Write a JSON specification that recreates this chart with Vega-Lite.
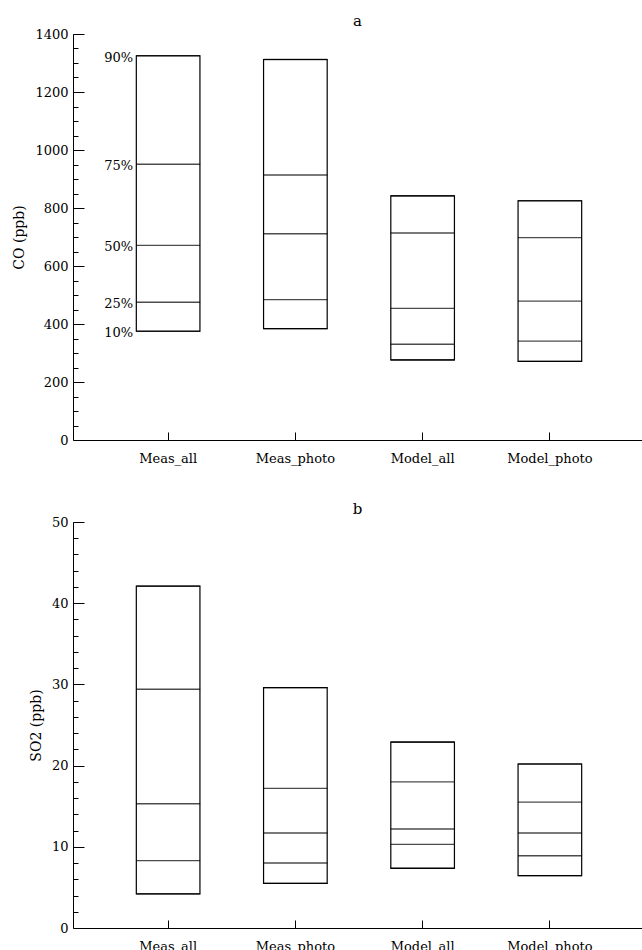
{
  "$schema": "https://vega.github.io/schema/vega-lite/v6.json",
  "autosize": {"type": "pad"},
  "padding": {"left": 12, "top": 14, "right": 0, "bottom": 0},
  "background": "white",
  "spacing": 82,
  "bounds": "flush",
  "config": {
    "view": {"stroke": null},
    "font": "DejaVu Serif",
    "axis": {
      "domainColor": "black", "tickColor": "black", "labelColor": "black", "titleColor": "black",
      "labelFont": "DejaVu Serif", "titleFont": "DejaVu Serif", "labelFontSize": 13, "titleFontSize": 14,
      "titleFontWeight": "normal", "grid": false, "domainWidth": 1, "tickWidth": 1, "labelOverlap": false
    },
    "title": {"font": "DejaVu Serif", "fontSize": 15, "fontWeight": "normal", "color": "black", "anchor": "middle", "offset": -1}
  },
  "datasets": {
    "co": [
      {"group": "Meas_all", "pct": "10%", "value": 375},
      {"group": "Meas_all", "pct": "25%", "value": 475},
      {"group": "Meas_all", "pct": "50%", "value": 671},
      {"group": "Meas_all", "pct": "75%", "value": 951},
      {"group": "Meas_all", "pct": "90%", "value": 1325},
      {"group": "Meas_photo", "pct": "10%", "value": 384},
      {"group": "Meas_photo", "pct": "25%", "value": 484},
      {"group": "Meas_photo", "pct": "50%", "value": 711},
      {"group": "Meas_photo", "pct": "75%", "value": 914},
      {"group": "Meas_photo", "pct": "90%", "value": 1312},
      {"group": "Model_all", "pct": "10%", "value": 276},
      {"group": "Model_all", "pct": "25%", "value": 330},
      {"group": "Model_all", "pct": "50%", "value": 454},
      {"group": "Model_all", "pct": "75%", "value": 714},
      {"group": "Model_all", "pct": "90%", "value": 842},
      {"group": "Model_photo", "pct": "10%", "value": 271},
      {"group": "Model_photo", "pct": "25%", "value": 341},
      {"group": "Model_photo", "pct": "50%", "value": 479},
      {"group": "Model_photo", "pct": "75%", "value": 698},
      {"group": "Model_photo", "pct": "90%", "value": 825}
    ],
    "so2": [
      {"group": "Meas_all", "pct": "10%", "value": 4.2},
      {"group": "Meas_all", "pct": "25%", "value": 8.3},
      {"group": "Meas_all", "pct": "50%", "value": 15.3},
      {"group": "Meas_all", "pct": "75%", "value": 29.4},
      {"group": "Meas_all", "pct": "90%", "value": 42.1},
      {"group": "Meas_photo", "pct": "10%", "value": 5.5},
      {"group": "Meas_photo", "pct": "25%", "value": 8.0},
      {"group": "Meas_photo", "pct": "50%", "value": 11.7},
      {"group": "Meas_photo", "pct": "75%", "value": 17.2},
      {"group": "Meas_photo", "pct": "90%", "value": 29.6},
      {"group": "Model_all", "pct": "10%", "value": 7.35},
      {"group": "Model_all", "pct": "25%", "value": 10.3},
      {"group": "Model_all", "pct": "50%", "value": 12.2},
      {"group": "Model_all", "pct": "75%", "value": 18.0},
      {"group": "Model_all", "pct": "90%", "value": 22.9},
      {"group": "Model_photo", "pct": "10%", "value": 6.45},
      {"group": "Model_photo", "pct": "25%", "value": 8.9},
      {"group": "Model_photo", "pct": "50%", "value": 11.7},
      {"group": "Model_photo", "pct": "75%", "value": 15.5},
      {"group": "Model_photo", "pct": "90%", "value": 20.2}
    ]
  },
  "vconcat": [
    {
      "title": "a",
      "width": 569,
      "height": 406,
      "data": {"name": "co"},
      "encoding": {
        "x": {
          "field": "group", "type": "nominal", "sort": null,
          "scale": {"range": [3, 569], "paddingInner": 0, "paddingOuter": 0.224},
          "axis": {"title": null, "labelAngle": 0, "tickSize": -8, "labelPadding": 20, "labelBaseline": "top"}
        }
      },
      "resolve": {"axis": {"y": "independent"}},
      "layer": [
        {
          "mark": {"type": "bar", "fill": "white", "stroke": "black", "strokeWidth": 1.2, "width": {"band": 0.5}},
          "encoding": {
            "y": {
              "aggregate": "min", "field": "value", "type": "quantitative",
              "scale": {"domain": [0, 1400], "nice": false, "zero": true},
              "axis": {
                "orient": "left",
                "title": "CO (ppb)",
                "values": [0,200,400,600,800,1000,1200,1400],
                "format": "d",
                "tickSize": -11,
                "labelPadding": 16,
                "titlePadding": 8
              }
            },
            "y2": {"aggregate": "max", "field": "value"}
          }
        },
        {
          "mark": {"type": "tick", "color": "black", "size": 64, "thickness": 1.4, "orient": "horizontal"},
          "encoding": {
            "y": {
              "field": "value", "type": "quantitative",
              "axis": {
                "orient": "left",
                "title": null,
                "values": [0,50,100,150,200,250,300,350,400,450,500,550,600,650,700,750,800,850,900,950,1000,1050,1100,1150,1200,1250,1300,1350,1400],
                "labels": false,
                "domain": false,
                "tickSize": -5
              }
            }
          }
        },
        {
          "transform": [{"filter": "datum.group === 'Meas_all'"}],
          "mark": {"type": "text", "align": "right", "baseline": "middle", "dx": -35, "dy": 2, "fontSize": 13, "font": "DejaVu Serif", "color": "black"},
          "encoding": {"y": {"field": "value", "type": "quantitative", "axis": null}, "text": {"field": "pct"}}
        }
      ]
    },
    {
      "title": "b",
      "width": 569,
      "height": 406,
      "data": {"name": "so2"},
      "encoding": {
        "x": {
          "field": "group", "type": "nominal", "sort": null,
          "scale": {"range": [3, 569], "paddingInner": 0, "paddingOuter": 0.224},
          "axis": {"title": null, "labelAngle": 0, "tickSize": -8, "labelPadding": 20, "labelBaseline": "top"}
        }
      },
      "resolve": {"axis": {"y": "independent"}},
      "layer": [
        {
          "mark": {"type": "bar", "fill": "white", "stroke": "black", "strokeWidth": 1.2, "width": {"band": 0.5}},
          "encoding": {
            "y": {
              "aggregate": "min", "field": "value", "type": "quantitative",
              "scale": {"domain": [0, 50], "nice": false, "zero": true},
              "axis": {
                "orient": "left",
                "title": "SO2 (ppb)",
                "values": [0,10,20,30,40,50],
                "format": "d",
                "tickSize": -11,
                "labelPadding": 16,
                "titlePadding": 8
              }
            },
            "y2": {"aggregate": "max", "field": "value"}
          }
        },
        {
          "mark": {"type": "tick", "color": "black", "size": 64, "thickness": 1.4, "orient": "horizontal"},
          "encoding": {
            "y": {
              "field": "value", "type": "quantitative",
              "axis": {
                "orient": "left",
                "title": null,
                "values": [0,2,4,6,8,10,12,14,16,18,20,22,24,26,28,30,32,34,36,38,40,42,44,46,48,50],
                "labels": false,
                "domain": false,
                "tickSize": -5
              }
            }
          }
        }
      ]
    }
  ]
}
